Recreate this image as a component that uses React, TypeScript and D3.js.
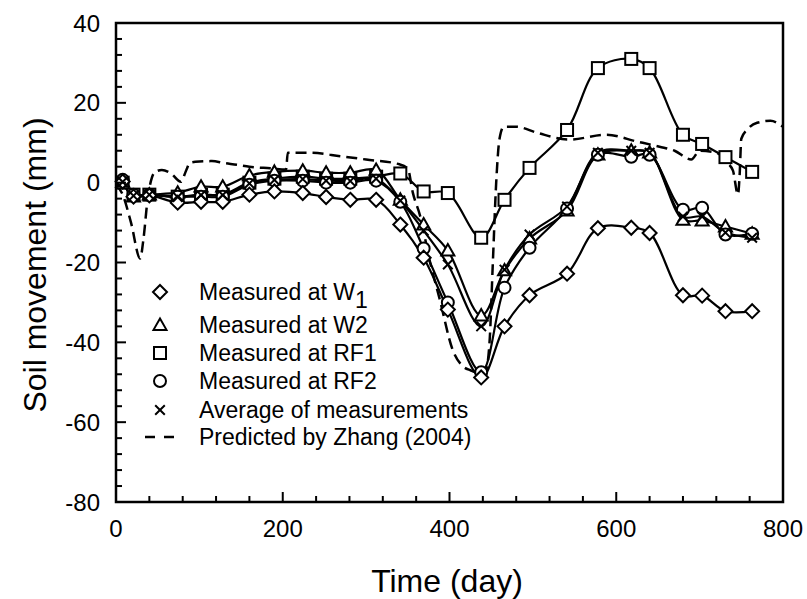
import React from "react";
import * as d3 from "d3";

const days = [8, 21, 40, 74, 102, 128, 160, 190, 224, 252, 281, 312, 341, 369, 398, 438, 466, 496, 541, 578, 618, 640, 680, 703, 731, 763];
const w1 = [0.3, -3.5, -3.2, -5.0, -4.8, -4.8, -3.0, -2.2, -2.6, -3.6, -4.3, -4.3, -10.5, -18.8, -31.8, -48.8, -36.0, -28.2, -22.8, -11.4, -11.3, -12.6, -28.2, -28.3, -32.2, -32.2];
const w2 = [0.2, -3.5, -3.0, -2.5, -1.0, -1.0, 1.8, 2.7, 3.0, 2.5, 2.5, 3.2, -4.3, -10.5, -17.0, -33.3, -22.0, -14.0, -7.0, 7.0, 8.0, 7.5, -9.3, -9.5, -11.0, -12.8];
const rf1 = [0.0, -3.0, -3.0, -3.5, -3.0, -3.0, 0.0, 1.0, 1.5, 1.0, 1.0, 1.5, 2.3, -2.2, -2.6, -13.8, -4.3, 3.7, 13.2, 28.7, 31.0, 28.7, 12.0, 9.7, 6.4, 2.7];
const rf2 = [0.7, -3.0, -3.0, -3.5, -3.5, -3.5, -0.5, 0.5, 0.5, 0.0, 0.0, 0.5, -4.8, -16.5, -30.0, -47.5, -26.3, -16.3, -6.5, 7.0, 6.5, 7.0, -6.8, -6.3, -13.0, -12.8];
const avg = [0.2, -3.3, -3.0, -3.6, -3.1, -3.1, -0.2, 0.7, 0.9, 0.5, 0.4, 1.0, -4.5, -12.0, -20.5, -36.0, -21.8, -13.0, -6.0, 7.5, 8.0, 7.5, -8.5, -8.5, -12.5, -13.8];

const predDays = [0, 8, 18, 29, 33, 38, 42, 46, 55, 66, 78, 84, 89, 100, 115, 130, 145, 160, 185, 204, 206, 233, 270, 300, 340, 350, 356, 365, 376, 388, 404, 416, 425, 433, 443, 448, 452, 456, 460, 465, 480, 505, 544, 588, 625, 652, 670, 690, 700, 720, 733, 740, 746, 748, 750, 758, 769, 785, 800];
const predVals = [-0.5, -3, -10, -19, -14, -4, 0.5, 2.5, 3.2, 2.3, 0.2, 3, 5, 5.3, 5.4, 4.9, 4.5, 4.0, 3.6, 3.3, 7.5, 7.5, 6.6, 5.8, 4.6, 3.5, -2.5, -8.5, -19.3, -29, -42, -46, -47, -47.5, -47.5, -40, -20, 0, 11, 14, 14, 12.5, 10.8, 12, 10.3, 9, 8, 5.8, 8, 7.5, 5, 3, -3, 2, 11, 13.5, 15, 15.5, 14];

const xTicksMajor = [0, 200, 400, 600, 800];
const yTicksMajor = [-80, -60, -40, -20, 0, 20, 40];

const legendLabels = ["Measured at W", "Measured at W2", "Measured at RF1", "Measured at RF2", "Average of measurements", "Predicted by Zhang (2004)"];

const L = 116, R = 783, T = 23, B = 502;
const x = d3.scaleLinear().domain([0, 800]).range([L, R]);
const y = d3.scaleLinear().domain([-80, 40]).range([B, T]);

const FONT = "'Liberation Sans', Arial, sans-serif";

type Kind = "diamond" | "triangle" | "square" | "circle" | "x";

function Marker({ kind, cx, cy }: { kind: Kind; cx: number; cy: number }) {
  const sw = 2;
  if (kind === "diamond") {
    const s = 7;
    return <path d={`M${cx},${cy - s}L${cx + s},${cy}L${cx},${cy + s}L${cx - s},${cy}Z`} fill="white" stroke="black" strokeWidth={sw} />;
  }
  if (kind === "triangle") {
    const s = 6.5;
    return <path d={`M${cx},${cy - s}L${cx + s},${cy + s * 0.75}L${cx - s},${cy + s * 0.75}Z`} fill="white" stroke="black" strokeWidth={sw} />;
  }
  if (kind === "square") {
    const s = 6;
    return <rect x={cx - s} y={cy - s} width={2 * s} height={2 * s} fill="white" stroke="black" strokeWidth={sw} />;
  }
  if (kind === "circle") {
    return <circle cx={cx} cy={cy} r={6} fill="white" stroke="black" strokeWidth={sw} />;
  }
  const s = 4.8;
  return <path d={`M${cx - s},${cy - s}L${cx + s},${cy + s}M${cx + s},${cy - s}L${cx - s},${cy + s}`} stroke="black" strokeWidth={sw} fill="none" />;
}

const series: { vals: number[]; kind: Kind }[] = [
  { vals: rf1, kind: "square" },
  { vals: w2, kind: "triangle" },
  { vals: rf2, kind: "circle" },
  { vals: w1, kind: "diamond" },
  { vals: avg, kind: "x" },
];

export default function App() {
  const line = d3
    .line<[number, number]>()
    .x((d) => x(d[0]))
    .y((d) => y(d[1]))
    .curve(d3.curveCatmullRom.alpha(0.5));
  const predLine = d3
    .line<[number, number]>()
    .x((d) => x(d[0]))
    .y((d) => y(d[1]))
    .curve(d3.curveMonotoneX);

  const xMinor = d3.range(0, 801, 40);
  const yMinor = d3.range(-80, 41, 4);

  const legendRows = [292, 325, 353, 381, 410, 437];
  const legendKinds: (Kind | "dash")[] = ["diamond", "triangle", "square", "circle", "x", "dash"];

  return (
    <svg width={807} height={599} style={{ position: "absolute", left: 0, top: 0, background: "white" }} fontFamily={FONT}>
      <rect x={0} y={0} width={807} height={599} fill="white" />
      <path d={predLine(predDays.map((d, i) => [d, predVals[i]] as [number, number])) || ""} fill="none" stroke="black" strokeWidth={2.5} strokeDasharray="11,6" />
      {series.map((s, si) => (
        <path key={si} d={line(days.map((d, i) => [d, s.vals[i]] as [number, number])) || ""} fill="none" stroke="black" strokeWidth={2.2} />
      ))}
      {series.map((s, si) => (
        <g key={"m" + si}>
          {days.map((d, i) => (
            <Marker key={i} kind={s.kind} cx={x(d)} cy={y(s.vals[i])} />
          ))}
        </g>
      ))}
      <rect x={L} y={T} width={R - L} height={B - T} fill="none" stroke="black" strokeWidth={2.5} />
      {xMinor.map((t) => {
        const major = t % 200 === 0;
        return <line key={"xt" + t} x1={x(t)} x2={x(t)} y1={B} y2={B - (major ? 10 : 6)} stroke="black" strokeWidth={2} />;
      })}
      {yMinor.map((t) => {
        const major = t % 20 === 0;
        return <line key={"yt" + t} x1={L} x2={L + (major ? 10 : 6)} y1={y(t)} y2={y(t)} stroke="black" strokeWidth={2} />;
      })}
      {xTicksMajor.map((t) => (
        <text key={"xl" + t} x={x(t)} y={537} textAnchor="middle" fontSize={24} fill="black">
          {t}
        </text>
      ))}
      {yTicksMajor.map((t) => (
        <text key={"yl" + t} x={100} y={y(t) + 8.5} textAnchor="end" fontSize={24} fill="black">
          {t}
        </text>
      ))}
      <text x={447} y={592} textAnchor="middle" fontSize={32} fill="black">
        Time (day)
      </text>
      <text transform={`translate(46,265) rotate(-90)`} textAnchor="middle" fontSize={32} fill="black">
        Soil movement (mm)
      </text>
      {legendKinds.map((k, i) => (
        <g key={"lg" + i}>
          {k === "dash" ? (
            <g>
              <line x1={145} x2={155} y1={legendRows[i]} y2={legendRows[i]} stroke="black" strokeWidth={2.5} />
              <line x1={164} x2={174} y1={legendRows[i]} y2={legendRows[i]} stroke="black" strokeWidth={2.5} />
            </g>
          ) : (
            <Marker kind={k} cx={160} cy={legendRows[i]} />
          )}
          <text x={199} y={legendRows[i] + 8} fontSize={23} fill="black">
            {legendLabels[i]}
            {i === 0 ? (
              <tspan dy={8} fontSize={23}>
                1
              </tspan>
            ) : null}
          </text>
        </g>
      ))}
    </svg>
  );
}
